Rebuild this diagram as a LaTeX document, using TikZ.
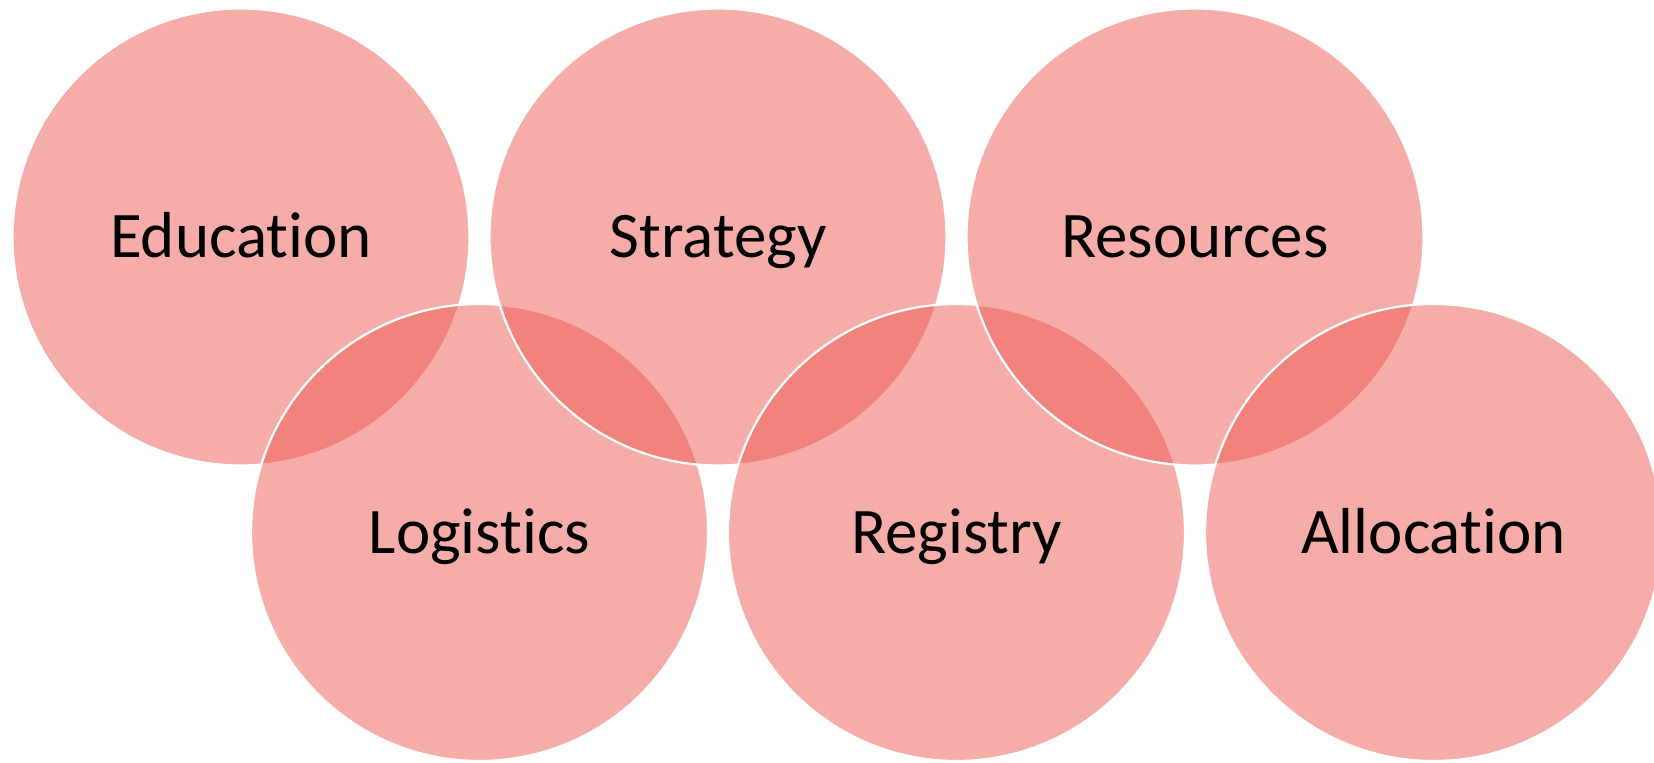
\documentclass[tikz,border=0pt]{standalone}
\usepackage{fontspec}
\setmainfont[Ligatures={NoCommon,NoDiscretionary,NoRare}]{Carlito}
\definecolor{ringfill}{RGB}{239,91,82}
\tikzset{
  ring/.style={circle, minimum size=457pt*0.5, inner sep=0pt, outer sep=0pt,
    fill=ringfill, fill opacity=0.5, draw=white, draw opacity=1, line width=1.1pt},
  ringlabel/.style={anchor=base, inner sep=0pt, text=black,
    font=\fontsize{32.5}{38}\selectfont}
}
\begin{document}
\begin{tikzpicture}[x=0.5pt, y=-0.5pt]
\useasboundingbox (0,0) rectangle (1654,763);
\clip (0,0) rectangle (1654,763);
\fill[white] (0,0) rectangle (1654,763);
% drawing order: zigzag left to right
\node[ring] (edu) at (241,237) {};
\node[ring] (log) at (479.5,532.5) {};
\node[ring] (str) at (718,237) {};
\node[ring] (reg) at (956.5,532.5) {};
\node[ring] (res) at (1195,237) {};
\node[ring] (all) at (1433.5,532.5) {};
% labels
\node[ringlabel] (tedu) at ([yshift=-10.4pt]edu.center) {Education};
\node[ringlabel] (tstr) at ([yshift=-10.4pt]str.center) {Strategy};
\node[ringlabel] (tres) at ([yshift=-10.4pt]res.center) {Resources};
\node[ringlabel] (tlog) at ([yshift=-10.4pt]log.center) {Logistics};
\node[ringlabel] (treg) at ([yshift=-10.4pt]reg.center) {Registry};
\node[ringlabel] (tall) at ([yshift=-10.4pt]all.center) {Allocation};
\end{tikzpicture}
\end{document}
